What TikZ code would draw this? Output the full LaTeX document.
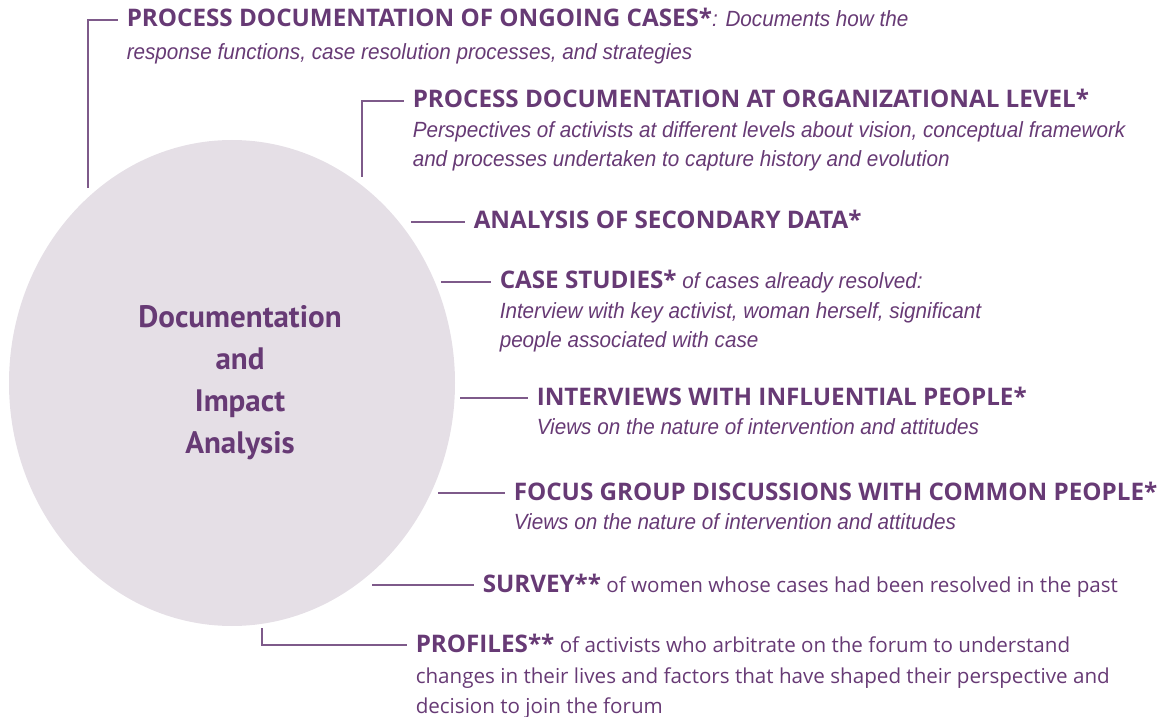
\documentclass[tikz,border=0pt]{standalone}
\usepackage{fontspec}
\usepackage{tikz}
\usetikzlibrary{shapes.geometric, positioning}
\setmainfont{PT Sans}
\newfontfamily\headfamily{Open Sans}
\newfontfamily\narrowit{Liberation Sans}[FakeStretch=0.94]
\definecolor{plum}{HTML}{673A75}
\definecolor{lilac}{HTML}{E5DFE6}
\definecolor{wire}{HTML}{7E5A8A}
\newcommand{\descfont}{\fontsize{11}{12}\selectfont\narrowit\mdseries\itshape}
\newcommand{\plainfont}{\fontsize{10.3}{12}\selectfont\headfamily\mdseries}

\begin{document}
\begin{tikzpicture}[x=0.5pt, y=-0.5pt, line width=0.75pt,
                    link/.style={draw=wire, shorten >=4pt},
                    head/.style={anchor=west, inner sep=0pt, text height=8pt, text depth=1pt, text=plum, font=\fontsize{12.1}{12}\selectfont\headfamily\bfseries},
                    desc/.style={head, font=\descfont},
                    plain/.style={head, font=\plainfont}]
                        \useasboundingbox (0, 0) rectangle (1164, 717);
                        \node [ellipse, fill=lilac, minimum width=223pt, minimum height=243pt, inner sep=0pt] (core) at (232, 383) {};
                        \node [align=center, text=plum, font=\fontsize{15.5}{21}\selectfont\bfseries] (title) at (240, 383) {Documentation\\and\\Impact\\Analysis};

                        \node [head] (ongoing) at (126, 20) {PROCESS DOCUMENTATION OF ONGOING CASES*{\descfont: Documents how the}};
                        \node [desc] (ongoingb) at (126, 53) {response functions, case resolution processes, and strategies};
                        \node [head] (orglevel) at (412, 101) {PROCESS DOCUMENTATION AT ORGANIZATIONAL LEVEL*};
                        \node [desc] (orglevelb) at (412, 131) {Perspectives of activists at different levels about vision, conceptual framework};
                        \node [desc] (orglevelc) at (412, 160) {and processes undertaken to capture history and evolution};
                        \node [head] (secondary) at (473, 222) {ANALYSIS OF SECONDARY DATA*};
                        \node [head] (cases) at (499, 282) {CASE STUDIES*{\descfont\ of cases already resolved:}};
                        \node [desc] (casesb) at (499, 312) {Interview with key activist, woman herself, significant};
                        \node [desc] (casesc) at (499, 341) {people associated with case};
                        \node [head] (influential) at (536, 398) {INTERVIEWS WITH INFLUENTIAL PEOPLE*};
                        \node [desc] (influentialb) at (536, 427) {Views on the nature of intervention and attitudes};
                        \node [head] (focus) at (513, 493) {FOCUS GROUP DISCUSSIONS WITH COMMON PEOPLE*};
                        \node [desc] (focusb) at (513, 522) {Views on the nature of intervention and attitudes};
                        \node [head] (survey) at (482, 585) {SURVEY**{\plainfont\ of women whose cases had been resolved in the past}};
                        \node [head] (profiles) at (415, 645) {PROFILES**{\plainfont\ of activists who arbitrate on the forum to understand}};
                        \node [plain] (profilesb) at (415, 676) {changes in their lives and factors that have shaped their perspective and};
                        \node [plain] (profilesc) at (415, 706) {decision to join the forum};

                        \coordinate (from1) at (88, 188);
                        \coordinate (from2) at (362, 177);
                        \coordinate (from3) at (411, 222);
                        \coordinate (from4) at (441, 282);
                        \coordinate (from5) at (460, 398);
                        \coordinate (from6) at (438, 493);
                        \coordinate (from7) at (372, 585);
                        \coordinate (from8) at (262, 628);

                        \path [link] (from1) |- (ongoing);
                        \path [link] (from2) |- (orglevel);
                        \path [link] (from3) -- (secondary);
                        \path [link] (from4) -- (cases);
                        \path [link] (from5) -- (influential);
                        \path [link] (from6) -- (focus);
                        \path [link] (from7) -- (survey);
                        \path [link] (from8) |- (profiles);
                    \end{tikzpicture}
\end{document}
